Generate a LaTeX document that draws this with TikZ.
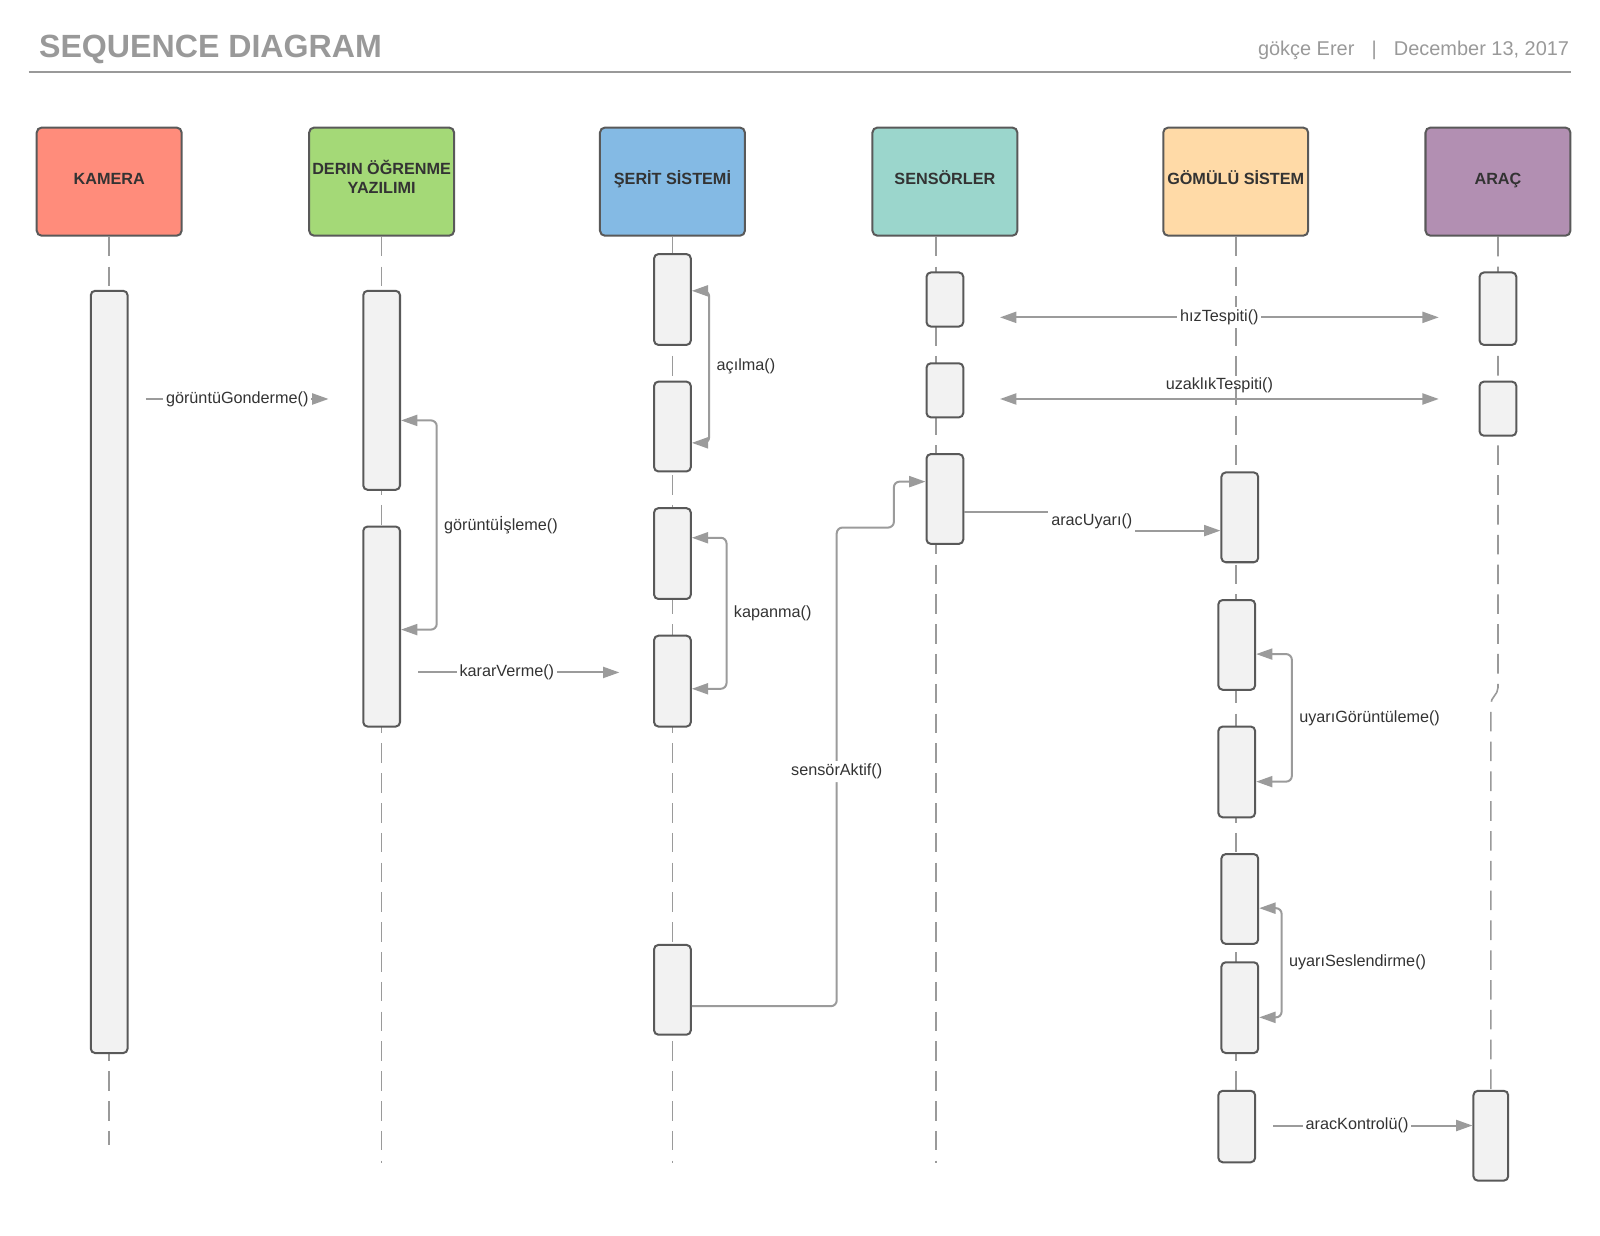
\documentclass[tikz,border=0pt]{standalone}
\usepackage{fontspec}
\setmainfont{Liberation Sans}
\usepackage{tikz}
\usetikzlibrary{arrows.meta,fit,backgrounds}

\definecolor{kameracol}{HTML}{FF8C7B}
\definecolor{derincol}{HTML}{A4D977}
\definecolor{seritcol}{HTML}{84BAE4}
\definecolor{sensorcol}{HTML}{9BD6CC}
\definecolor{gomulucol}{HTML}{FFDAA7}
\definecolor{araccol}{HTML}{B28FB2}
\definecolor{boxline}{HTML}{595959}
\definecolor{actfill}{HTML}{F2F2F2}
\definecolor{msgcol}{HTML}{9B9B9B}
\definecolor{lifecol}{HTML}{9A9A9A}
\definecolor{titlecol}{HTML}{999999}
\definecolor{labeltext}{HTML}{333333}

\begin{document}
\begin{tikzpicture}[x=0.025cm, y=-0.025cm,
  >={Triangle[length=0.4cm,width=0.27cm]},
  head/.style = {draw=boxline, line width=1.4pt, rounded corners=3.5pt,
    minimum width=3.55cm, minimum height=2.65cm, inner sep=1pt, align=center,
    text height=0.29cm, text depth=0.15cm,
    font=\fontsize{11.3}{13.5}\selectfont\bfseries, text=labeltext},
  act/.style = {draw=boxline, line width=1.4pt, fill=actfill,
    rounded corners=3pt, inner sep=0pt},
  life/.style = {draw=lifecol, line width=1.1pt, dash pattern=on 0.48cm off 0.25cm},
  msg/.style = {draw=msgcol, line width=1.4pt, ->},
  twoway/.style = {msg, <->},
  lbl/.style = {font=\fontsize{11.3}{13}\selectfont, text=labeltext, inner sep=1.5pt},
  cut/.style = {lbl, fill=white, inner sep=2pt}
]
\useasboundingbox (0,0) rectangle (1568,1211);

\node[anchor=base west, inner sep=0pt, text=titlecol,
  font=\fontsize{22.4}{26}\selectfont\bfseries] (title) at (38,56) {SEQUENCE DIAGRAM};
\node[anchor=base east, inner sep=0pt, text=titlecol,
  font=\fontsize{13.9}{16}\selectfont] (author) at (1538,54)
  {gökçe Erer\hspace{0.42cm}|\hspace{0.42cm}December 13, 2017};
\draw[draw=titlecol, line width=1.4pt] (28,71) -- (1540,71);

\node[head, fill=kameracol] (kamera) at (107,178) {KAMERA};
\node[head, fill=derincol, text height=0.59cm, text depth=0cm] (derin) at (374,178)
  {DERIN ÖĞRENME\\YAZILIMI};
\node[head, fill=seritcol] (serit) at (659,178) {ŞERİT SİSTEMİ};
\node[head, fill=sensorcol] (sensor) at (926,178) {SENSÖRLER};
\node[head, fill=gomulucol] (gomulu) at (1211,178) {GÖMÜLÜ SİSTEM};
\node[head, fill=araccol] (arac) at (1468,178) {ARAÇ};

\node[act, fit={(89,285) (125,1032)}] (k1) {};

\node[act, fit={(356,285) (392,480)}] (d1) {};
\node[act, fit={(356,516) (392,712)}] (d2) {};

\node[act, fit={(641,249) (677,338)}] (s1) {};
\node[act, fit={(641,374) (677,462)}] (s2) {};
\node[act, fit={(641,498) (677,587)}] (s3) {};
\node[act, fit={(641,623) (677,712)}] (s4) {};
\node[act, fit={(641,926) (677,1014)}] (s5) {};

\node[act, fit={(908,267) (944,320)}] (sn1) {};
\node[act, fit={(908,356) (944,409)}] (sn2) {};
\node[act, fit={(908,445) (944,533)}] (sn3) {};

\node[act, fit={(1197,463) (1233,551)}] (g1) {};
\node[act, fit={(1194,588) (1230,676)}] (g2) {};
\node[act, fit={(1194,712) (1230,801)}] (g3) {};
\node[act, fit={(1197,837) (1233,925)}] (g4) {};
\node[act, fit={(1197,943) (1233,1032)}] (g5) {};
\node[act, fit={(1194,1069) (1230,1139)}] (g6) {};

\node[act, fit={(1450,267) (1486,338)}] (a1) {};
\node[act, fit={(1450,374) (1486,427)}] (a2) {};
\node[act, fit={(1444,1069) (1478,1157)}] (a3) {};

\coordinate (kend) at (107,1122);
\coordinate (dend) at (374,1140);
\coordinate (send) at (659,1140);
\coordinate (snend) at (917,1140);
\coordinate (jog1) at (1468,674);
\coordinate (jog2) at (1461,690);

\begin{scope}[on background layer]
  \draw[life] (kamera.south) -- (kend);
  \draw[life] (derin.south) -- (dend);
  \draw[life] (serit.south) -- (send);
  \draw[life] (sensor.south -| snend) -- (snend);
  \draw[life] (gomulu.south) -- (gomulu.south |- g6.north);
  \draw[life] (arac.south) -- (jog1) to[out=-90, in=90] (jog2) -- (a3.north);
\end{scope}

\coordinate (gg1) at (143,391);
\coordinate (gg2) at (322,391);
\draw[msg] (gg1) -- node[cut] {görüntüGonderme()} (gg2);

\coordinate (gi1) at (428,412);
\coordinate (gi2) at (428,617);
\draw[twoway, rounded corners=4pt] (d1.east |- gi1) -- (gi1)
  -- node[lbl, right=3pt] {görüntüİşleme()} (gi2) -- (d2.east |- gi2);

\coordinate (kv1) at (410,659);
\coordinate (kv2) at (607,659);
\draw[msg] (kv1) -- node[cut, pos=0.44] {kararVerme()} (kv2);

\coordinate (ac1) at (695,285);
\coordinate (ac2) at (695,434);
\draw[twoway, rounded corners=4pt] (s1.east |- ac1) -- (ac1)
  -- node[lbl, right=3pt] {açılma()} (ac2) -- (s2.east |- ac2);

\coordinate (kp1) at (712,527);
\coordinate (kp2) at (712,675);
\draw[twoway, rounded corners=4pt] (s3.east |- kp1) -- (kp1)
  -- node[lbl, right=3pt] {kapanma()} (kp2) -- (s4.east |- kp2);

\coordinate (sa1) at (820,986);
\coordinate (sa2) at (820,517);
\coordinate (sa3) at (876,517);
\coordinate (sa4) at (876,472);
\draw[msg, rounded corners=4pt] (s5.east |- sa1) -- (sa1)
  -- node[cut, pos=0.49] {sensörAktif()} (sa2) -- (sa3) -- (sa4) -- (sn3.west |- sa4);

\coordinate (hz1) at (980,311);
\coordinate (hz2) at (1410,311);
\draw[twoway] (hz1) -- node[cut] {hızTespiti()} (hz2);

\coordinate (uz1) at (980,391);
\coordinate (uz2) at (1410,391);
\draw[twoway] (uz1) -- node[lbl, above=2pt] {uzaklıkTespiti()} (uz2);

\coordinate (au1) at (1070,502);
\coordinate (au2) at (1070,520);
\draw[msg] (sn3.east |- au1) -- (au1)
  -- node[cut] {aracUyarı()} (au2) -- (g1.west |- au2);

\coordinate (ug1) at (1266,641);
\coordinate (ug2) at (1266,766);
\draw[twoway, rounded corners=4pt] (g2.east |- ug1) -- (ug1)
  -- node[lbl, right=3pt] {uyarıGörüntüleme()} (ug2) -- (g3.east |- ug2);

\coordinate (us1) at (1256,890);
\coordinate (us2) at (1256,997);
\draw[twoway, rounded corners=4pt] (g4.east |- us1) -- (us1)
  -- node[lbl, right=3pt] {uyarıSeslendirme()} (us2) -- (g5.east |- us2);

\coordinate (ak) at (1248,1103);
\draw[msg] (ak) -- node[cut, pos=0.42] {aracKontrolü()} (a3.west |- ak);
\end{tikzpicture}
\end{document}
